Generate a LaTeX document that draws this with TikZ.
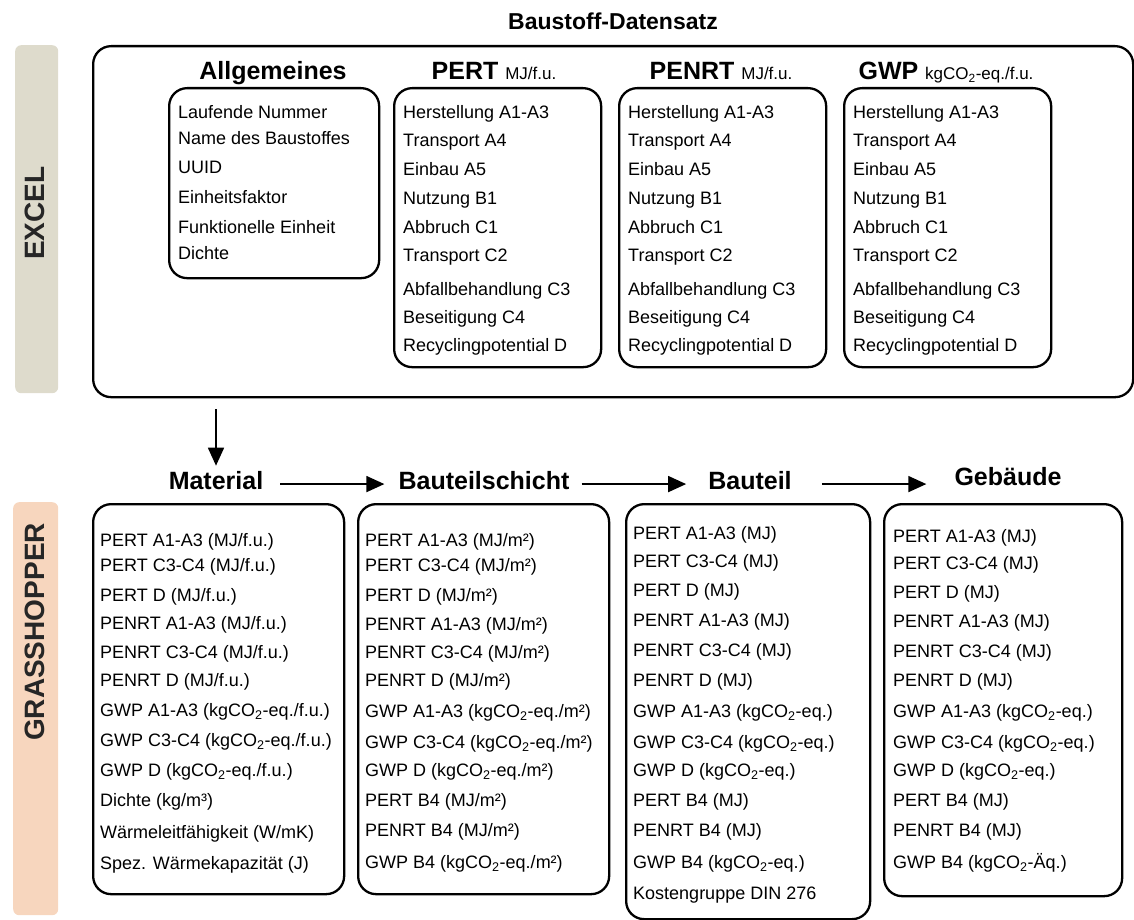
\documentclass[tikz,border=0pt]{standalone}
\usepackage{fontspec}
\setmainfont{Liberation Sans}
\usetikzlibrary{arrows.meta}

\definecolor{excelgray}{HTML}{DEDBCC}
\definecolor{grasspeach}{HTML}{F7D6BE}
\newcommand{\unitsz}{\fontsize{17}{20}\selectfont\mdseries}

\begin{document}
\begin{tikzpicture}[x=1pt,y=-1pt,
    box/.style={draw,line width=2.3pt,rounded corners=18pt,anchor=north west,inner sep=0pt},
    item/.style={anchor=base west,inner sep=0pt,yshift=-6.5pt,font=\fontsize{18}{20}\selectfont},
    head/.style={anchor=base,inner sep=0pt,font=\fontsize{25}{28}\selectfont\bfseries},
    bar/.style={rounded corners=6pt,anchor=north west,inner sep=0pt},
    barlabel/.style={rotate=90,inner sep=0pt,text=black!85,font=\fontsize{28}{32}\selectfont\bfseries},
    arr/.style={-{Triangle[length=18pt,width=16pt]},line width=1.7pt}]

  \useasboundingbox (0,0) rectangle (1134,920);

  % side bars
  \node[bar,fill=excelgray,minimum width=43pt,minimum height=348pt] (excelbar) at (15,45) {};
  \node[barlabel] (excel) at (35,213) {EXCEL};
  \node[bar,fill=grasspeach,minimum width=45pt,minimum height=413pt] (grassbar) at (13,502) {};
  \node[barlabel] (grass) at (35,632) {GRASSHOPPER};

  % Excel: Baustoff-Datensatz
  \node[head,font=\fontsize{23}{26}\selectfont\bfseries] (title) at (613,30) {Baustoff-Datensatz};
  \node[box,minimum width=1040pt,minimum height=351pt] (dataset) at (92,45) {};

  \node[head] (allgHead) at (273,80) {Allgemeines};
  \node[head] (pertHead) at (494,80) {PERT \unitsz MJ/f.u.};
  \node[head] (penrtHead) at (721,80) {PENRT \unitsz MJ/f.u.};
  \node[head] (gwpHead) at (946,80) {GWP \unitsz kgCO\textsubscript{2}-eq./f.u.};

  \node[box,minimum width=210pt,minimum height=190pt] (allg) at (168,87) {};
  \node[box,minimum width=207pt,minimum height=279pt] (pert) at (393,87) {};
  \node[box,minimum width=207pt,minimum height=279pt] (penrt) at (618,87) {};
  \node[box,minimum width=207pt,minimum height=279pt] (gwp) at (843,87) {};

  \foreach \y/\txt [count=\i] in {112/Laufende Nummer,138/Name des Baustoffes,167/UUID,
      197/Einheitsfaktor,227/Funktionelle Einheit,253/Dichte}
    \node[item] (allg-\i) at (178,\y) {\txt};

  \foreach \bx/\nm in {403/pert,628/penrt,853/gwp}
    \foreach \y/\txt [count=\i] in {112/Herstellung A1-A3,140/Transport A4,169/Einbau A5,
        198/Nutzung B1,227/Abbruch C1,255/Transport C2,289/Abfallbehandlung C3,
        317/Beseitigung C4,345/Recyclingpotential D}
      \node[item] (\nm-\i) at (\bx,\y) {\txt};

  % Grasshopper: Material -> Bauteilschicht -> Bauteil -> Gebaeude
  \node[head] (material) at (216,489) {Material};
  \node[head] (schicht) at (484,489) {Bauteilschicht};
  \node[head] (bauteil) at (750,489) {Bauteil};
  \node[head] (gebaeude) at (1008,485) {Gebäude};

  \node[box,minimum width=251pt,minimum height=390pt] (matBox) at (92,503) {};
  \node[box,minimum width=251pt,minimum height=390pt] (schichtBox) at (357,503) {};
  \node[box,minimum width=244pt,minimum height=415pt] (bauteilBox) at (625,503) {};
  \node[box,minimum width=238pt,minimum height=392pt] (gebaeudeBox) at (883,503) {};

  \foreach \y/\txt [count=\i] in {540/{PERT A1-A3 (MJ/f.u.)},565/{PERT C3-C4 (MJ/f.u.)},
      595/{PERT D (MJ/f.u.)},623/{PENRT A1-A3 (MJ/f.u.)},652/{PENRT C3-C4 (MJ/f.u.)},
      680/{PENRT D (MJ/f.u.)},710/{GWP A1-A3 (kgCO\textsubscript{2}-eq./f.u.)},
      740/{GWP C3-C4 (kgCO\textsubscript{2}-eq./f.u.)},770/{GWP D (kgCO\textsubscript{2}-eq./f.u.)},
      800/{Dichte (kg/m³)},832/{Wärmeleitfähigkeit (W/mK)},863/{Spez. Wärmekapazität (J)}}
    \node[item] (mat-\i) at (100,\y) {\txt};

  \foreach \y/\txt [count=\i] in {540/{PERT A1-A3 (MJ/m²)},565/{PERT C3-C4 (MJ/m²)},
      595/{PERT D (MJ/m²)},624/{PENRT A1-A3 (MJ/m²)},652/{PENRT C3-C4 (MJ/m²)},
      680/{PENRT D (MJ/m²)},711/{GWP A1-A3 (kgCO\textsubscript{2}-eq./m²)},
      742/{GWP C3-C4 (kgCO\textsubscript{2}-eq./m²)},770/{GWP D (kgCO\textsubscript{2}-eq./m²)},
      800/{PERT B4 (MJ/m²)},830/{PENRT B4 (MJ/m²)},862/{GWP B4 (kgCO\textsubscript{2}-eq./m²)}}
    \node[item] (schicht-\i) at (365,\y) {\txt};

  \foreach \y/\txt [count=\i] in {533/{PERT A1-A3 (MJ)},561/{PERT C3-C4 (MJ)},
      590/{PERT D (MJ)},620/{PENRT A1-A3 (MJ)},650/{PENRT C3-C4 (MJ)},
      680/{PENRT D (MJ)},711/{GWP A1-A3 (kgCO\textsubscript{2}-eq.)},
      742/{GWP C3-C4 (kgCO\textsubscript{2}-eq.)},770/{GWP D (kgCO\textsubscript{2}-eq.)},
      800/{PERT B4 (MJ)},830/{PENRT B4 (MJ)},862/{GWP B4 (kgCO\textsubscript{2}-eq.)},
      893/{Kostengruppe DIN 276}}
    \node[item] (bauteil-\i) at (633,\y) {\txt};

  \foreach \y/\txt [count=\i] in {536/{PERT A1-A3 (MJ)},563/{PERT C3-C4 (MJ)},
      592/{PERT D (MJ)},621/{PENRT A1-A3 (MJ)},651/{PENRT C3-C4 (MJ)},
      680/{PENRT D (MJ)},711/{GWP A1-A3 (kgCO\textsubscript{2}-eq.)},
      742/{GWP C3-C4 (kgCO\textsubscript{2}-eq.)},770/{GWP D (kgCO\textsubscript{2}-eq.)},
      800/{PERT B4 (MJ)},830/{PENRT B4 (MJ)},862/{GWP B4 (kgCO\textsubscript{2}-Äq.)}}
    \node[item] (gebaeude-\i) at (893,\y) {\txt};

  % arrows
  \draw[arr,shorten <=11pt,shorten >=5pt] (material |- dataset.south) -- (material.north);
  \draw[arr,shorten <=17pt,shorten >=14pt] ([yshift=-4pt]material.east) -- ([yshift=-4pt]schicht.west);
  \draw[arr,shorten <=12pt,shorten >=22pt] ([yshift=-4pt]schicht.east) -- ([yshift=-4pt]bauteil.west);
  \draw[arr,shorten <=30pt,shorten >=28pt] ([yshift=-4pt]bauteil.east) -- ([yshift=-4pt]bauteil.east -| gebaeude.west);
\end{tikzpicture}
\end{document}
